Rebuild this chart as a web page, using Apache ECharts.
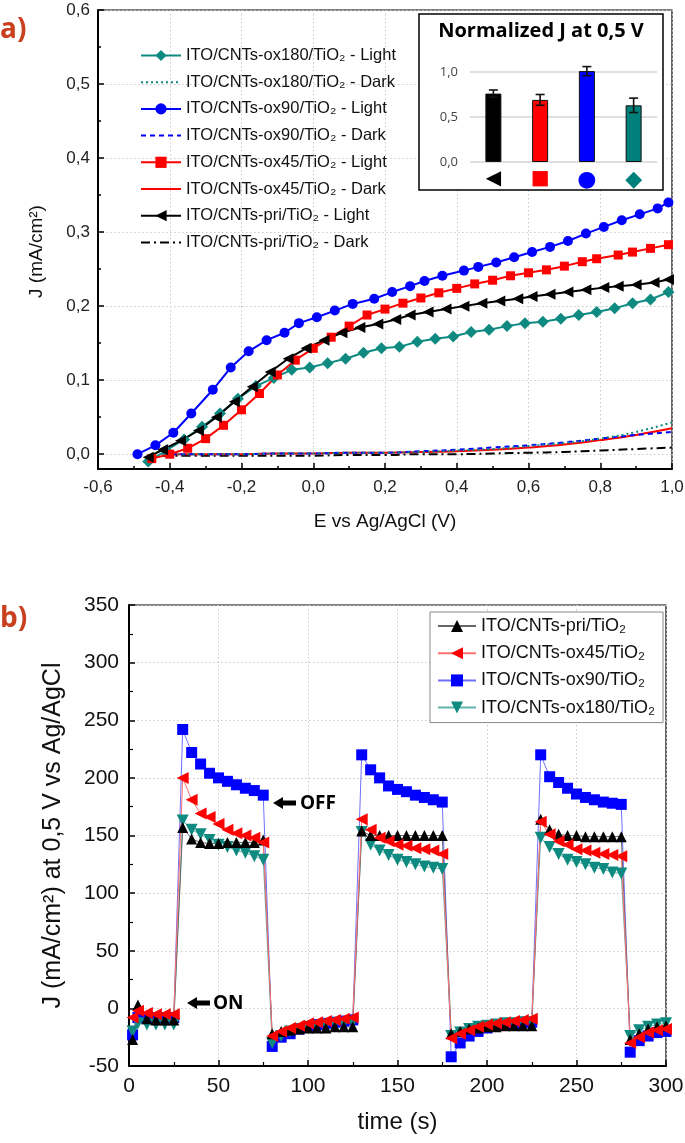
<!DOCTYPE html>
<html><head><meta charset="utf-8">
<script src="https://cdn.jsdelivr.net/npm/echarts@6/dist/echarts.min.js"></script>
<style>html,body{margin:0;padding:0;background:#fff}#c{width:685px;height:1143px}</style>
</head><body><div id="c"></div>
<script>
// ---------- Panel a: J-E curves ----------
const E_OX180 = [-0.46,-0.41,-0.36,-0.31,-0.26,-0.21,-0.16,-0.11,-0.06,-0.01,0.04,0.09,0.14,0.19,0.24,0.29,0.34,0.39,0.44,0.49,0.54,0.59,0.64,0.69,0.74,0.79,0.84,0.89,0.94,0.99];
const J_OX180_L = [-0.010,0.005,0.020,0.037,0.055,0.075,0.092,0.103,0.114,0.117,0.123,0.129,0.137,0.143,0.145,0.152,0.156,0.159,0.165,0.168,0.173,0.177,0.179,0.183,0.188,0.192,0.197,0.204,0.209,0.219];
const E_OX90 = [-0.49,-0.44,-0.39,-0.34,-0.28,-0.23,-0.18,-0.13,-0.08,-0.04,0.01,0.06,0.11,0.17,0.22,0.27,0.31,0.36,0.42,0.46,0.51,0.56,0.61,0.66,0.71,0.76,0.81,0.86,0.91,0.96,0.99];
const J_OX90_L = [0.000,0.012,0.029,0.055,0.087,0.117,0.139,0.154,0.164,0.177,0.185,0.194,0.203,0.210,0.219,0.227,0.234,0.241,0.248,0.253,0.259,0.266,0.273,0.280,0.288,0.298,0.307,0.316,0.324,0.332,0.340];
const E_OX45 = [-0.45,-0.40,-0.35,-0.30,-0.25,-0.20,-0.15,-0.10,-0.05,0.00,0.05,0.10,0.15,0.20,0.25,0.30,0.35,0.40,0.45,0.50,0.55,0.60,0.65,0.70,0.75,0.79,0.85,0.89,0.94,0.99];
const J_OX45_L = [-0.006,0.000,0.008,0.021,0.039,0.060,0.082,0.107,0.127,0.143,0.158,0.173,0.188,0.196,0.204,0.211,0.218,0.224,0.230,0.235,0.241,0.245,0.249,0.254,0.260,0.264,0.269,0.273,0.278,0.283];
const E_PRI = [-0.46,-0.42,-0.37,-0.32,-0.27,-0.22,-0.17,-0.12,-0.07,-0.02,0.03,0.08,0.13,0.18,0.23,0.27,0.32,0.37,0.42,0.47,0.52,0.57,0.61,0.66,0.71,0.76,0.81,0.85,0.90,0.95,0.99];
const J_PRI_L = [-0.004,0.006,0.018,0.032,0.050,0.071,0.091,0.111,0.129,0.143,0.154,0.164,0.171,0.176,0.182,0.188,0.192,0.196,0.200,0.204,0.207,0.210,0.213,0.216,0.219,0.222,0.225,0.227,0.229,0.232,0.236];
const E_DARK = [-0.42,-0.3,-0.2,-0.1,0.0,0.1,0.2,0.3,0.4,0.5,0.6,0.7,0.8,0.9,1.0];
const J_OX180_D = [0,0,0,0.001,0.001,0.002,0.002,0.003,0.005,0.007,0.011,0.015,0.021,0.030,0.043];
const J_OX90_D  = [0,0,0,0.001,0.001,0.002,0.002,0.004,0.006,0.009,0.012,0.016,0.021,0.026,0.030];
const J_OX45_D  = [0,0,0,0.001,0.001,0.002,0.002,0.003,0.004,0.006,0.009,0.013,0.019,0.026,0.035];
const J_PRI_D   = [-0.002,-0.002,-0.002,-0.002,-0.002,-0.001,-0.001,0,0,0.001,0.002,0.003,0.005,0.007,0.009];

// ---------- Inset: normalized J at 0,5 V ----------
const INSET_CATS = ['pri','ox45','ox90','ox180'];
const INSET_NORM = [0.76, 0.69, 1.01, 0.63];
const INSET_ERR  = [0.04, 0.06, 0.05, 0.08];

// ---------- Panel b: chronoamperometry ----------
const T = [2,5,10,15,20,25,30,35,40,45,50,55,60,65,70,75,80,85,90,95,100,105,110,115,120,125,130,135,140,145,150,155,160,165,170,175,180,185,190,195,200,205,210,215,220,225,230,235,240,245,250,255,260,265,270,275,280,285,290,295,300];
const J_PRI = [-27,3,-9,-10,-10,-10, 157,147,144,143,143,144,144,144,144,146, -22,-20,-19,-18,-17,-17,-17,-16,-16,-16, 154,150,150,150,150,150,150,150,150,150, -22,-20,-18,-17,-16,-16,-15,-15,-15,-15, 164,155,151,150,150,149,149,149,149,149, -27,-22,-18,-16,-15];
const J_OX45 = [-8,-2,-4,-5,-5,-5, 200,181,169,166,160,155,152,150,148,144, -24,-20,-17,-15,-13,-12,-11,-10,-9,-8, 164,155,148,145,142,141,139,138,137,134, -26,-22,-19,-16,-14,-13,-12,-11,-10,-9, 162,151,145,142,138,137,135,134,133,132, -30,-25,-21,-19,-18];
const J_OX90 = [-23,-8,-8,-8,-8,-8, 242,222,212,204,200,197,194,191,189,185, -33,-25,-22,-18,-16,-14,-13,-12,-11,-10, 220,207,200,193,190,188,185,183,181,179, -42,-30,-24,-20,-17,-15,-14,-13,-12,-12, 220,201,196,191,186,183,181,179,178,177, -38,-28,-24,-21,-20];
const J_OX180 = [-20,-13,-14,-14,-14,-14, 163,155,151,146,142,140,137,135,132,129, -30,-24,-20,-18,-16,-15,-14,-13,-13,-12, 153,142,137,133,129,127,125,123,122,121, -24,-21,-18,-16,-15,-14,-13,-13,-12,-12, 148,140,134,129,127,125,122,121,118,117, -24,-19,-16,-14,-13];

const zip = (xs, ys) => xs.map((x, i) => [x, ys[i]]);
const fmt1 = v => (Math.abs(v) < 1e-9 ? 0 : v).toFixed(1).replace('.', ',');

const TEAL = '#0f8a80', BLUE = '#0000ff', RED = '#ff0000', BLACK = '#000000';
const LEFT_TRI = 'path://M0,5 L10,0 L10,10 Z';
const DOWN_TRI = 'path://M0,0 L10,0 L5,10 Z';
const FONT = 'Liberation Sans, Arial, sans-serif';

const chart = echarts.init(document.getElementById('c'), null, {renderer: 'canvas'});

const namesA = ['ITO/CNTs-ox180/TiO₂ - Light','ITO/CNTs-ox180/TiO₂ - Dark','ITO/CNTs-ox90/TiO₂ - Light','ITO/CNTs-ox90/TiO₂ - Dark','ITO/CNTs-ox45/TiO₂ - Light','ITO/CNTs-ox45/TiO₂ - Dark','ITO/CNTs-pri/TiO₂ - Light','ITO/CNTs-pri/TiO₂ - Dark'];
const namesB = ['ITO/CNTs-pri/TiO₂','ITO/CNTs-ox45/TiO₂','ITO/CNTs-ox90/TiO₂','ITO/CNTs-ox180/TiO₂'];

function lightSeries(name, xs, ys, color, symbol, size) {
  return {name, type:'line', xAxisIndex:0, yAxisIndex:0, data: zip(xs, ys), symbol, symbolSize:size,
    showAllSymbol:true, clip:false, color, itemStyle:{color}, lineStyle:{color, width:2}};
}
function darkSeries(name, ys, color, type) {
  return {name, type:'line', xAxisIndex:0, yAxisIndex:0, data: zip(E_DARK, ys), symbol:'none', smooth:0.4,
    clip:false, color, lineStyle:{color, width:2, type}};
}
function tSeries(name, ys, color, lineColor, symbol, size) {
  return {name, type:'line', xAxisIndex:3, yAxisIndex:3, data: zip(T, ys), symbol, symbolSize:size,
    showAllSymbol:true, color, itemStyle:{color}, lineStyle:{color: lineColor, width:1}};
}

const dotted = {show:true, lineStyle:{color:'#c8c8c8', type:[1.5,2.5], width:1}};
const INSET_COLORS = [BLACK, RED, BLUE, '#00807a'];
const INSET_SHAPES = ['◀','■','●','◆'];
const legendA = namesA.map((n, i) => (i % 2 === 1 ? {name:n, itemStyle:{opacity:0}} : {name:n}));

const option = {
  animation:false,
  backgroundColor:'#fff',
  textStyle:{fontFamily:FONT},
  grid:[
    {left:98, right:13, top:10, bottom:674, show:true, borderColor:'#000', borderWidth:1.2, backgroundColor:'transparent', outerBoundsMode:'none'},
    {left:98, right:13, top:10, bottom:689, outerBoundsMode:'none'},
    {left:470, right:28, top:72, bottom:981, outerBoundsMode:'none', z:5},
    {left:129, right:19, top:605, bottom:77, show:true, borderColor:'#000', borderWidth:1.2, outerBoundsMode:'none'}
  ],
  xAxis:[
    {gridIndex:0, type:'value', min:-0.6, max:1.0, interval:0.2,
     name:'E vs Ag/AgCl (V)', nameLocation:'middle', nameGap:43, nameTextStyle:{fontSize:19, color:'#111', fontFamily:FONT},
     axisLine:{onZero:false, lineStyle:{color:'#000', width:2}}, axisTick:{inside:true, length:6, lineStyle:{color:'#000', width:1.5}},
     minorTick:{show:true, splitNumber:2, length:3, lineStyle:{color:'#000', width:1.5}},
     axisLabel:{formatter:fmt1, fontSize:17, color:'#222', margin:10, fontFamily:FONT},
     splitLine:dotted},
    {gridIndex:1, type:'value', min:-0.6, max:1.0, show:false},
    {gridIndex:2, type:'category', data:INSET_CATS, axisLine:{show:false}, axisTick:{show:false},
     axisLabel:{margin:7, formatter:(v, i) => '{s' + i + '|' + INSET_SHAPES[i] + '}',
       rich:{s0:{color:INSET_COLORS[0], fontSize:20, fontFamily:'DejaVu Sans'}, s1:{color:INSET_COLORS[1], fontSize:20, fontFamily:'DejaVu Sans'},
             s2:{color:INSET_COLORS[2], fontSize:22, fontFamily:'DejaVu Sans'}, s3:{color:INSET_COLORS[3], fontSize:22, fontFamily:'DejaVu Sans'}}},
     z:6},
    {gridIndex:3, type:'value', min:0, max:300, interval:50,
     name:'time (s)', nameLocation:'middle', nameGap:44, nameTextStyle:{fontSize:24, color:'#111', fontFamily:FONT},
     axisLine:{onZero:false, lineStyle:{color:'#000', width:2}}, axisTick:{inside:true, length:6, lineStyle:{color:'#000', width:1.5}},
     minorTick:{show:true, splitNumber:2, length:4, lineStyle:{color:'#000', width:1.2}},
     axisLabel:{fontSize:21, color:'#111', margin:10, fontFamily:FONT},
     splitLine:dotted}
  ],
  yAxis:[
    {gridIndex:0, type:'value', min:-0.02, max:0.6,
     name:'J (mA/cm²)', nameLocation:'middle', nameGap:52, nameRotate:90, nameTextStyle:{fontSize:19, color:'#111', fontFamily:FONT, padding:[0,24,0,0]},
     axisLine:{onZero:false, lineStyle:{color:'#000', width:2}}, axisTick:{show:false}, axisLabel:{show:false}, splitLine:{show:false}},
    {gridIndex:1, type:'value', min:0, max:0.6, interval:0.1,
     axisLine:{show:false, onZero:false}, axisTick:{inside:true, length:6, lineStyle:{color:'#000', width:1.5}},
     minorTick:{show:true, splitNumber:2, length:3, lineStyle:{color:'#000', width:1.5}},
     axisLabel:{formatter:fmt1, fontSize:17, color:'#222', margin:8, fontFamily:FONT},
     splitLine:dotted},
    {gridIndex:2, type:'value', min:0, max:1.0, interval:0.5,
     axisLine:{show:false}, axisTick:{show:false},
     axisLabel:{formatter:fmt1, fontSize:13, color:'#444', margin:12, fontFamily:'Open Sans'},
     splitLine:{show:true, lineStyle:{color:'#d4d4d4', width:1.5}}, z:6},
    {gridIndex:3, type:'value', min:-50, max:350, interval:50,
     name:'J (mA/cm²) at 0,5 V vs Ag/AgCl', nameLocation:'middle', nameGap:63, nameRotate:90, nameTextStyle:{fontSize:25, color:'#111', fontFamily:FONT},
     axisLine:{onZero:false, lineStyle:{color:'#000', width:2}}, axisTick:{inside:true, length:6, lineStyle:{color:'#000', width:1.5}},
     minorTick:{show:true, splitNumber:2, length:4, lineStyle:{color:'#000', width:1.2}},
     axisLabel:{fontSize:21, color:'#111', margin:10, fontFamily:FONT},
     splitLine:dotted}
  ],
  legend:[
    {data:legendA, orient:'vertical', left:140, top:47, padding:0, itemGap:9.7, itemWidth:40, itemHeight:14,
     textStyle:{fontSize:16.5, color:'#111', lineHeight:17, fontFamily:FONT}, selectedMode:false},
    {data:namesB, orient:'vertical', left:430, top:612, padding:[5,8,6,7], itemGap:9.2, itemWidth:38, itemHeight:15,
     backgroundColor:'#fff', borderColor:'#888', borderWidth:1,
     textStyle:{fontSize:18, color:'#111', lineHeight:17.5, fontFamily:FONT}, selectedMode:false}
  ],
  graphic:[
    {type:'rect', shape:{x:419, y:14, width:244, height:176}, style:{fill:'#fff', stroke:'#000', lineWidth:1.5}, z:3},
    {type:'text', x:541, y:31, style:{text:'Normalized J at 0,5 V', font:'bold 20px "Open Sans", Lato, sans-serif', fill:'#000', textAlign:'center', textVerticalAlign:'middle'}, z:10},
    {type:'text', x:0, y:30, style:{text:'a)', font:'bold 28px "Open Sans", Lato, sans-serif', fill:'#c8401e', textAlign:'left', textVerticalAlign:'middle'}, z:10},
    {type:'text', x:0, y:619, style:{text:'b)', font:'bold 28px "Open Sans", Lato, sans-serif', fill:'#c8401e', textAlign:'left', textVerticalAlign:'middle'}, z:10},
    {type:'polygon', shape:{points:[[273,803],[283,797],[283,800.5],[296,800.5],[296,805.5],[283,805.5],[283,809]]}, style:{fill:'#000'}, z:10},
    {type:'text', x:300, y:804, style:{text:'OFF', font:'bold 19px "Open Sans", Lato, sans-serif', fill:'#000', textAlign:'left', textVerticalAlign:'middle'}, z:10},
    {type:'polygon', shape:{points:[[187,1003],[197,997],[197,1000.5],[210,1000.5],[210,1005.5],[197,1005.5],[197,1009]]}, style:{fill:'#000'}, z:10},
    {type:'text', x:213, y:1004, style:{text:'ON', font:'bold 19px "Open Sans", Lato, sans-serif', fill:'#000', textAlign:'left', textVerticalAlign:'middle'}, z:10}
  ],
  series:[
    darkSeries(namesA[7], J_PRI_D, BLACK, [9,4,2,4]),
    darkSeries(namesA[5], J_OX45_D, RED, 'solid'),
    darkSeries(namesA[3], J_OX90_D, BLUE, [5,4]),
    darkSeries(namesA[1], J_OX180_D, TEAL, [2,3]),
    lightSeries(namesA[0], E_OX180, J_OX180_L, TEAL, 'diamond', 12),
    lightSeries(namesA[4], E_OX45, J_OX45_L, RED, 'rect', 9),
    lightSeries(namesA[6], E_PRI, J_PRI_L, BLACK, LEFT_TRI, 11),
    lightSeries(namesA[2], E_OX90, J_OX90_L, BLUE, 'circle', 10),
    {name:'Normalized J', type:'bar', xAxisIndex:2, yAxisIndex:2, barWidth:16, clip:false, z:7,
     data: INSET_NORM.map((v, i) => ({value:v, itemStyle:{color:INSET_COLORS[i]}})),
     itemStyle:{borderColor:'#111', borderWidth:1}},
    {name:'Error', type:'custom', xAxisIndex:2, yAxisIndex:2, z:8, clip:false,
     data: INSET_NORM.map((v, i) => [i, v, INSET_ERR[i]]),
     renderItem:(params, api) => {
       const x = api.value(0), y = api.value(1), e = api.value(2);
       const top = api.coord([x, y + e]), bot = api.coord([x, y - e]);
       const w = 4.5, st = {stroke:'#111', lineWidth:1.6};
       return {type:'group', children:[
         {type:'line', shape:{x1:top[0], y1:top[1], x2:bot[0], y2:bot[1]}, style:st},
         {type:'line', shape:{x1:top[0]-w, y1:top[1], x2:top[0]+w, y2:top[1]}, style:st},
         {type:'line', shape:{x1:bot[0]-w, y1:bot[1], x2:bot[0]+w, y2:bot[1]}, style:st}
       ]};
     }},
    tSeries(namesB[2], J_OX90, BLUE, '#7070ff', 'rect', 11),
    tSeries(namesB[3], J_OX180, TEAL, '#5fb3ac', DOWN_TRI, 12),
    tSeries(namesB[0], J_PRI, BLACK, '#666666', 'triangle', 11),
    tSeries(namesB[1], J_OX45, RED, '#ff7070', LEFT_TRI, 12)
  ]
};
chart.setOption(option);
</script></body></html>
